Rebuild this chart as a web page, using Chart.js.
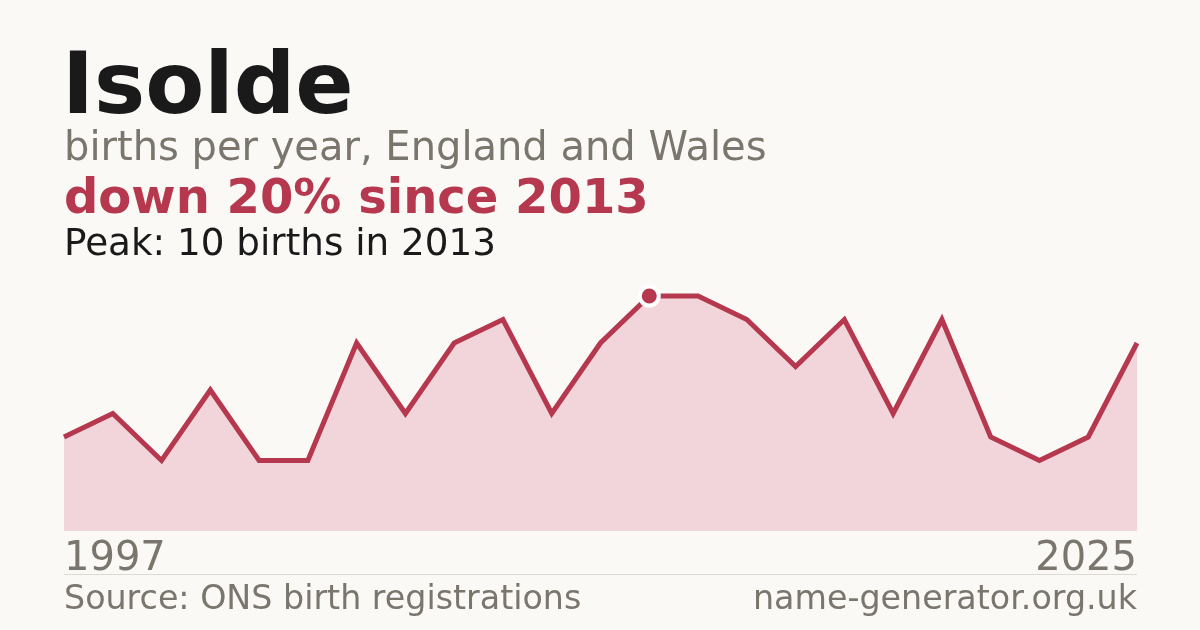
<!DOCTYPE html>
<html>
<head>
<meta charset="utf-8">
<script src="https://cdn.jsdelivr.net/npm/chart.js@4/dist/chart.umd.min.js"></script>
<style>
  html, body { margin: 0; padding: 0; }
  body {
    width: 1200px; height: 630px; overflow: hidden; position: relative;
    background: #faf9f5; font-family: "DejaVu Sans", sans-serif;
  }
  .txt { position: absolute; line-height: 0.9; white-space: nowrap; }
  #title { left: 62px; top: 45px; font-size: 86px; font-weight: bold; color: #1a1a1a; }
  #sub { left: 64px; top: 128px; font-size: 40px; color: #7a756d; }
  #change { left: 64px; top: 175px; font-size: 48px; font-weight: bold; color: #b5384f; }
  #peak { left: 64px; top: 226px; font-size: 37.3px; color: #1a1a1a; }
  #firstYear { left: 64px; top: 538px; font-size: 40px; color: #7a756d; }
  #lastYear { right: 63px; top: 538px; font-size: 40px; color: #7a756d; }
  #rule { position: absolute; left: 64px; top: 574px; width: 1073px; height: 1px; background: #dddad3; }
  #source { left: 64px; top: 583px; font-size: 33.3px; color: #7a756d; }
  #site { right: 63px; top: 583px; font-size: 33.3px; color: #7a756d; }
  #wrap { position: absolute; left: 0; top: 0; width: 1200px; height: 630px; }
</style>
</head>
<body>
<div id="wrap"><canvas id="chart" width="1200" height="630"></canvas></div>
<div class="txt" id="title">Isolde</div>
<div class="txt" id="sub">births per year, England and Wales</div>
<div class="txt" id="change">down 20% since 2013</div>
<div class="txt" id="peak">Peak: 10 births in 2013</div>
<div class="txt" id="firstYear"></div>
<div class="txt" id="lastYear"></div>
<div id="rule"></div>
<div class="txt" id="source">Source: ONS birth registrations</div>
<div class="txt" id="site">name-generator.org.uk</div>

<script>
// years with a published count (some years missing)
const years = [1997, 1998, 1999, 2001, 2002, 2004, 2005, 2007, 2008, 2009, 2011, 2012,
  2013, 2014, 2015, 2016, 2018, 2019, 2020, 2022, 2023, 2024, 2025];
const births = [4, 5, 3, 6, 3, 3, 8, 5, 8, 9, 5, 8, 10, 10, 9, 7, 9, 5, 9, 4, 3, 4, 8];
const peakYear = 2013;

document.getElementById("firstYear").textContent = years[0];
document.getElementById("lastYear").textContent = years[years.length - 1];

const peakIndex = years.indexOf(peakYear);
const radii = births.map((v, i) => (i === peakIndex ? 9.5 : 0));

var ctx = document.getElementById("chart").getContext("2d");
var chart = new Chart(ctx, {
  type: "line",
  data: {
    labels: years.map(String),
    datasets: [
      {
        data: births,
        borderColor: "#b5384f",
        borderWidth: 5,
        backgroundColor: "#f2d5da",
        fill: "origin",
        tension: 0,
        clip: false,
        pointRadius: radii,
        pointHoverRadius: radii,
        pointBackgroundColor: "#b5384f",
        pointBorderColor: "#ffffff",
        pointBorderWidth: 4,
      },
    ],
  },
  options: {
    responsive: false,
    animation: false,
    devicePixelRatio: 1,
    layout: { padding: { left: 64, right: 63, top: 296, bottom: 99 } },
    plugins: { legend: { display: false }, tooltip: { enabled: false } },
    scales: {
      x: { display: false, offset: false },
      y: { display: false, min: 0, max: 10 },
    },
  },
});
</script>
</body>
</html>
